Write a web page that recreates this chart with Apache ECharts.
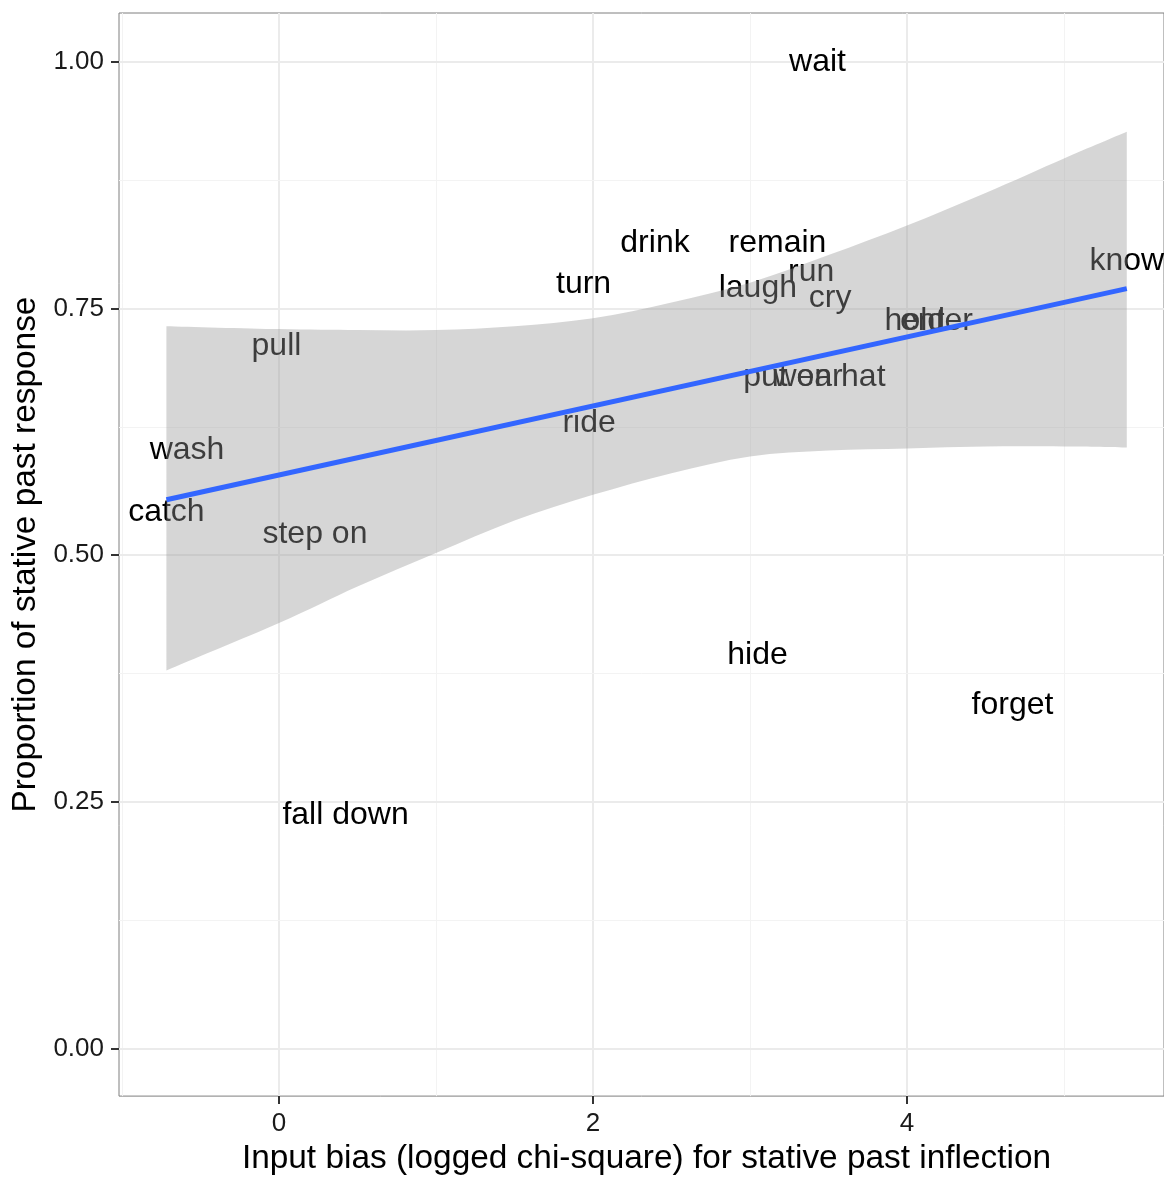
<!DOCTYPE html>
<html>
<head>
<meta charset="utf-8">
<script src="https://cdn.jsdelivr.net/npm/echarts@6/dist/echarts.min.js"></script>
<style>
  html, body { margin: 0; padding: 0; background: #fff; overflow: hidden; }
  #chart { width: 1164px; height: 1180px; }
</style>
</head>
<body>
<div id="chart"></div>
<script>
// ---- data ----
const words = ['wait', 'drink', 'remain', 'turn', 'run', 'laugh', 'cry', 'know', 'hold', 'enter',
               'pull', 'put on hat', 'wear', 'ride', 'wash', 'catch', 'step on', 'hide', 'forget', 'fall down'];
const inputBias = [3.43, 2.395, 3.175, 1.94, 3.39, 3.05, 3.51, 5.40, 4.05, 4.188,
                   -0.016, 3.41, 3.37, 1.975, -0.586, -0.717, 0.229, 3.048, 4.672, 0.424];
const proportion = [1.0, 0.816, 0.816, 0.775, 0.787, 0.771, 0.760, 0.798, 0.737, 0.737,
                    0.712, 0.680, 0.680, 0.634, 0.606, 0.543, 0.521, 0.399, 0.348, 0.236];

// fitted line endpoints and confidence band
const fitX = [-0.717, 5.40];
const fitY = [0.556, 0.770];
const bandX  = [-0.717, 0, 0.5, 1, 1.5, 2, 2.5, 3, 3.5, 4, 4.5, 5, 5.40];
const bandHi = [0.732, 0.729, 0.728, 0.728, 0.732, 0.740, 0.756, 0.776, 0.804, 0.834, 0.867, 0.902, 0.929];
const bandLo = [0.383, 0.431, 0.468, 0.502, 0.535, 0.561, 0.583, 0.600, 0.606, 0.608, 0.610, 0.610, 0.609];

// axis ticks / grid
const xTicks = [0, 2, 4];
const xMinor = [-1, 1, 3, 5];
const yTicks = [0, 0.25, 0.5, 0.75, 1.0];
const yMinor = [0.125, 0.375, 0.625, 0.875];

const FONT = "'Liberation Sans', Arial, Helvetica, sans-serif";

const gridLines = [];
xTicks.forEach(v => gridLines.push({ xAxis: v, lineStyle: { color: '#ebebeb', width: 2, type: 'solid' } }));
xMinor.forEach(v => gridLines.push({ xAxis: v, lineStyle: { color: '#f3f3f3', width: 1, type: 'solid' } }));
yTicks.forEach(v => gridLines.push({ yAxis: v, lineStyle: { color: '#ebebeb', width: 2, type: 'solid' } }));
yMinor.forEach(v => gridLines.push({ yAxis: v, lineStyle: { color: '#f3f3f3', width: 1, type: 'solid' } }));

// Catmull-Rom through screen points -> cubic bezier path commands
function splinePath(pts, moveFirst) {
  let d = (moveFirst ? 'M' : 'L') + pts[0][0] + ',' + pts[0][1];
  for (let i = 0; i < pts.length - 1; i++) {
    const p0 = pts[i - 1] || pts[i];
    const p1 = pts[i];
    const p2 = pts[i + 1];
    const p3 = pts[i + 2] || pts[i + 1];
    const c1 = [p1[0] + (p2[0] - p0[0]) / 6, p1[1] + (p2[1] - p0[1]) / 6];
    const c2 = [p2[0] - (p3[0] - p1[0]) / 6, p2[1] - (p3[1] - p1[1]) / 6];
    d += 'C' + c1[0] + ',' + c1[1] + ',' + c2[0] + ',' + c2[1] + ',' + p2[0] + ',' + p2[1];
  }
  return d;
}

const chart = echarts.init(document.getElementById('chart'), null, { renderer: 'canvas' });

const option = {
  animation: false,
  backgroundColor: '#ffffff',
  grid: {
    left: 119, right: 0, top: 13, bottom: 79,
    show: true, borderColor: '#7f7f7f', borderWidth: 1, backgroundColor: 'transparent'
  },
  xAxis: {
    type: 'value',
    min: -1.019, max: 5.637,
    name: 'Input bias (logged chi-square) for stative past inflection',
    nameLocation: 'middle',
    nameGap: 43,
    nameTextStyle: { fontFamily: FONT, fontSize: 33.4, color: '#000', padding: [0, 0, 0, 10] },
    axisLine: { show: false, onZero: false },
    axisTick: { show: true, length: 8, customValues: xTicks, lineStyle: { color: '#333', width: 2 } },
    axisLabel: { customValues: xTicks, margin: 15, fontFamily: FONT, fontSize: 26, color: '#1a1a1a',
                 formatter: v => String(Math.round(v)) },
    splitLine: { show: false }
  },
  yAxis: {
    type: 'value',
    min: -0.0484, max: 1.0494,
    name: 'Proportion of stative past response',
    nameLocation: 'middle',
    nameGap: 73,
    nameTextStyle: { fontFamily: FONT, fontSize: 33.4, color: '#000' },
    axisLine: { show: false, onZero: false },
    axisTick: { show: true, length: 8, customValues: yTicks, lineStyle: { color: '#333', width: 2 } },
    axisLabel: { customValues: yTicks, margin: 15, fontFamily: FONT, fontSize: 26, color: '#1a1a1a',
                 formatter: v => v.toFixed(2) },
    splitLine: { show: false }
  },
  series: [
    {
      // grid lines
      type: 'line',
      z: 0,
      silent: true,
      data: fitX.map((x, i) => [x, fitY[i]]),
      symbol: 'none',
      lineStyle: { opacity: 0 },
      markLine: {
        z: 0,
        silent: true,
        symbol: ['none', 'none'],
        label: { show: false },
        animation: false,
        data: gridLines
      }
    },
    {
      // word labels
      type: 'scatter',
      z: 2,
      symbolSize: 0,
      itemStyle: { opacity: 1 },
      data: words.map((w, i) => ({ name: w, value: [inputBias[i], proportion[i]] })),
      label: {
        show: true,
        position: 'inside',
        formatter: '{b}',
        fontFamily: FONT,
        fontSize: 32,
        color: '#000000',
        opacity: 1,
        align: 'center',
        verticalAlign: 'middle',
        offset: [0, 1]
      },
      emphasis: { disabled: true },
      labelLayout: { hideOverlap: false }
    },
    {
      // confidence band
      type: 'custom',
      z: 3,
      silent: true,
      data: [[bandX[0], bandLo[0]]],
      encode: { x: 0, y: 1 },
      renderItem: function (params, api) {
        if (params.dataIndex !== 0) return;
        const hi = bandX.map((x, i) => api.coord([x, bandHi[i]]));
        const lo = bandX.map((x, i) => api.coord([x, bandLo[i]])).reverse();
        const d = splinePath(hi, true) + splinePath(lo, false) + 'Z';
        return {
          type: 'path',
          shape: { pathData: d },
          style: { fill: 'rgba(153,153,153,0.4)', stroke: null }
        };
      }
    },
    {
      // fitted line
      type: 'line',
      z: 4,
      silent: true,
      data: fitX.map((x, i) => [x, fitY[i]]),
      symbol: 'none',
      lineStyle: { color: '#3366FF', width: 5 }
    }
  ]
};

chart.setOption(option);
</script>
</body>
</html>
